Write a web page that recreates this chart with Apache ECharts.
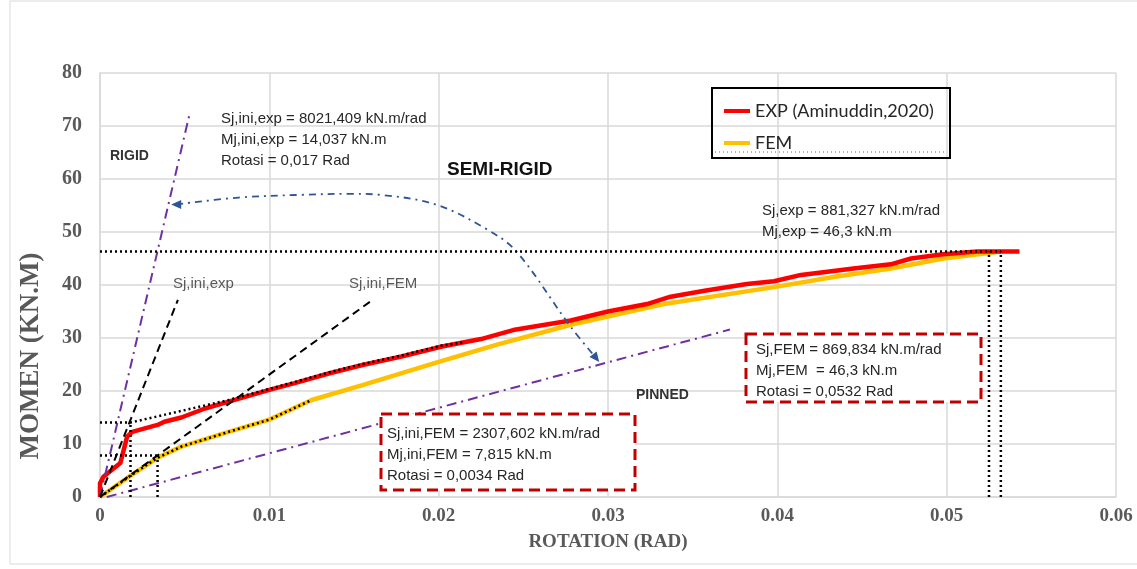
<!DOCTYPE html>
<html>
<head>
<meta charset="utf-8">
<script src="https://cdn.jsdelivr.net/npm/echarts@6/dist/echarts.min.js"></script>
<style>html,body{margin:0;padding:0;background:#fff;}#c{width:1137px;height:569px;}</style>
</head>
<body>
<div id="c"></div>
<script>
// ---- data ----
const xTicks = [0, 0.01, 0.02, 0.03, 0.04, 0.05, 0.06];
const yTicks = [0, 10, 20, 30, 40, 50, 60, 70, 80];
const expData = [[0,0],[0,2.6],[0.0002,3.8],[0.0012,6.4],[0.0016,11.4],[0.0019,12.3],[0.0027,13.0],[0.0034,13.6],[0.0038,14.2],[0.0048,15.0],[0.0062,16.7],[0.0076,18.0],[0.0100,20.2],[0.0115,21.5],[0.0135,23.3],[0.0155,24.9],[0.0178,26.5],[0.0202,28.4],[0.0225,29.8],[0.0244,31.5],[0.0278,33.3],[0.0300,35.0],[0.0323,36.4],[0.0337,37.8],[0.0357,38.9],[0.0382,40.2],[0.0398,40.7],[0.0414,41.9],[0.0445,43.1],[0.0467,43.9],[0.0479,45.0],[0.0498,45.8],[0.0518,46.3],[0.0543,46.3]];
const femData = [[0,0],[0.0017,3.8],[0.0034,7.4],[0.0048,9.5],[0.0076,12.3],[0.0100,14.6],[0.0125,18.3],[0.0155,21.1],[0.0200,25.5],[0.0234,28.7],[0.0278,32.5],[0.0333,36.4],[0.0398,39.6],[0.0435,41.6],[0.0467,43.1],[0.0498,45.0],[0.0532,46.3]];
const rigidLine = [[0,0],[0.0053,72.4]];
const pinnedLine = [[0.0004,0],[0.0372,31.6]];
const sjIniExpLine = [[0,0],[0.0046,37.2]];
const sjIniFemLine = [[0,0],[0.0161,37.2]];
const expSecant = [[0,14.04],[0.0018,14.04],[0.0076,18.3],[0.0100,20.4],[0.0115,21.7],[0.0135,23.5],[0.0155,25.1],[0.0178,26.7],[0.0202,28.6],[0.0215,29.2]];
const femSecant = [[0,0],[0.0017,3.8],[0.0034,7.4],[0.0048,9.5],[0.0076,12.3],[0.0100,14.6],[0.0125,18.3]];
const refLines = [
  [[0,7.815],[0.0034,7.815]],
  [[0.0034,0],[0.0034,7.815]],
  [[0.0018,0],[0.0018,14.04]],
  [[0,46.3],[0.0532,46.3]],
  [[0.0525,0],[0.0525,46.3]],
  [[0.0532,0],[0.0532,46.3]]
];
const arcArrow = [[0.0045,55.2],[0.0082,56.5],[0.0118,57.0],[0.0148,57.2],[0.0166,57.0],[0.0199,55.1],[0.0229,50.4],[0.0246,46.3],[0.0278,32.1],[0.0293,26.2]];

const chart = echarts.init(document.getElementById('c'));
const TXT = '#262626';
const SANS = 'Liberation Sans, Arial, sans-serif';
const SERIF = 'Liberation Serif, Times New Roman, serif';

function txt(x, y, lines, opt) {
  return {type:'text', left:x, top:y, z:50, style:Object.assign({text:lines.join('\n'), font:'15px ' + SANS, fill:TXT, lineHeight:21}, opt||{})};
}

const series = [
  {name:'FEM', type:'line', data:femData, showSymbol:false, lineStyle:{color:'#ffc000', width:4.5}, itemStyle:{color:'#ffc000'}, z:3},
  {name:'EXP (Aminuddin,2020)', type:'line', data:expData, showSymbol:false, lineStyle:{color:'#ff0000', width:4.5}, itemStyle:{color:'#ff0000'}, z:4},
  {type:'line', data:rigidLine, showSymbol:false, lineStyle:{color:'#7030a0', width:2, type:[10,5,2,5]}, z:5},
  {type:'line', data:pinnedLine, showSymbol:false, lineStyle:{color:'#7030a0', width:2, type:[10,5,2,5]}, z:5},
  {type:'line', data:sjIniExpLine, showSymbol:false, lineStyle:{color:'#000', width:2, type:[8,5]}, z:5},
  {type:'line', data:sjIniFemLine, showSymbol:false, lineStyle:{color:'#000', width:2, type:[8,5]}, z:5},
  {type:'line', data:expSecant, showSymbol:false, lineStyle:{color:'#000', width:2.5, type:[2,3]}, z:6},
  {type:'line', data:femSecant, showSymbol:false, lineStyle:{color:'#000', width:2.5, type:[2,3]}, z:6},
  {type:'line', data:arcArrow.map((p,i)=>{
      if (i===0) return {value:p, symbol:'triangle', symbolSize:[9,10], symbolRotate:90};
      if (i===arcArrow.length-1) return {value:p, symbol:'triangle', symbolSize:[9,10], symbolRotate:218};
      return {value:p, symbol:'none'};
    }), smooth:0.35, showSymbol:true, lineStyle:{color:'#2f5597', width:1.8, type:[7,5,2,5]}, itemStyle:{color:'#2f5597'}, z:5}
];
refLines.forEach(d => series.push({type:'line', data:d, showSymbol:false, lineStyle:{color:'#000', width:2.5, type:[2,3]}, z:6}));

chart.setOption({
  animation:false,
  backgroundColor:'#fff',
  grid:{left:100, right:21, top:73, bottom:72},
  xAxis:{type:'value', min:0, max:0.06, interval:0.01,
    axisLine:{show:true, lineStyle:{color:'#d9d9d9', width:1.5}}, axisTick:{show:false},
    splitLine:{show:true, lineStyle:{color:'#d9d9d9', width:1.5}},
    axisLabel:{color:'#595959', fontFamily:SERIF, fontWeight:'bold', fontSize:19, margin:10,
      formatter:v => { const i = xTicks.findIndex(t => Math.abs(t - v) < 1e-9); const t = i>=0 ? xTicks[i] : v; return t===0 ? '0' : t.toFixed(2); }},
    name:'ROTATION (RAD)', nameLocation:'middle', nameGap:36,
    nameTextStyle:{color:'#595959', fontFamily:SERIF, fontWeight:'bold', fontSize:19}},
  yAxis:{type:'value', min:0, max:80, interval:10,
    axisLine:{show:true, lineStyle:{color:'#d9d9d9', width:1.5}}, axisTick:{show:false},
    splitLine:{show:true, lineStyle:{color:'#d9d9d9', width:1.5}},
    axisLabel:{color:'#595959', fontFamily:SERIF, fontWeight:'bold', fontSize:20, margin:18,
      formatter:v => String(yTicks.find(t => Math.abs(t - v) < 1e-9) ?? v)}},
  legend:{data:['EXP (Aminuddin,2020)','FEM'], orient:'vertical', left:719, top:97, itemGap:14,
    itemWidth:26, itemHeight:4, icon:'rect', textStyle:{fontFamily:'Lato, sans-serif', fontSize:18, color:'#262626'}},
  series:series,
  graphic:[
    {type:'rect', shape:{x:10, y:1, width:1200, height:563}, style:{fill:'none', stroke:'#d9d9d9', lineWidth:1}, z:0, silent:true},
    {type:'rect', shape:{x:712, y:88, width:238, height:70}, style:{fill:'none', stroke:'#000', lineWidth:2}, z:40},
    {type:'line', shape:{x1:715, y1:152, x2:947, y2:152}, style:{stroke:'#4472c4', lineWidth:1, lineDash:[1,3]}, z:40},
    {type:'text', z:50, style:{text:'MOMEN (KN.M)', font:'bold 27px ' + SERIF, fill:'#595959', textAlign:'center', textVerticalAlign:'middle'}, rotation:Math.PI/2, position:[31,356]},
    txt(221, 108, ['Sj,ini,exp = 8021,409 kN.m/rad','Mj,ini,exp = 14,037 kN.m','Rotasi = 0,017 Rad']),
    txt(110, 146, ['RIGID'], {font:'bold 14px ' + SANS, fill:'#333'}),
    txt(447, 159, ['SEMI-RIGID'], {font:'bold 19px ' + SANS, fill:'#111'}),
    txt(762, 200, ['Sj,exp = 881,327 kN.m/rad','Mj,exp = 46,3 kN.m']),
    txt(173, 273, ['Sj,ini,exp'], {fill:'#595959'}),
    txt(349, 273, ['Sj,ini,FEM'], {fill:'#595959'}),
    txt(636, 385, ['PINNED'], {font:'bold 14px ' + SANS, fill:'#333'}),
    {type:'rect', shape:{x:381, y:414, width:254, height:76}, style:{fill:'#fff', stroke:'#c00000', lineWidth:3, lineDash:[11,6]}, z:30},
    txt(387, 423, ['Sj,ini,FEM = 2307,602 kN.m/rad','Mj,ini,FEM = 7,815 kN.m','Rotasi = 0,0034 Rad']),
    {type:'rect', shape:{x:746, y:334, width:235, height:68}, style:{fill:'#fff', stroke:'#c00000', lineWidth:3, lineDash:[11,6]}, z:30},
    txt(756, 339, ['Sj,FEM = 869,834 kN.m/rad','Mj,FEM  = 46,3 kN.m','Rotasi = 0,0532 Rad'])
  ]
});
</script>
</body>
</html>
